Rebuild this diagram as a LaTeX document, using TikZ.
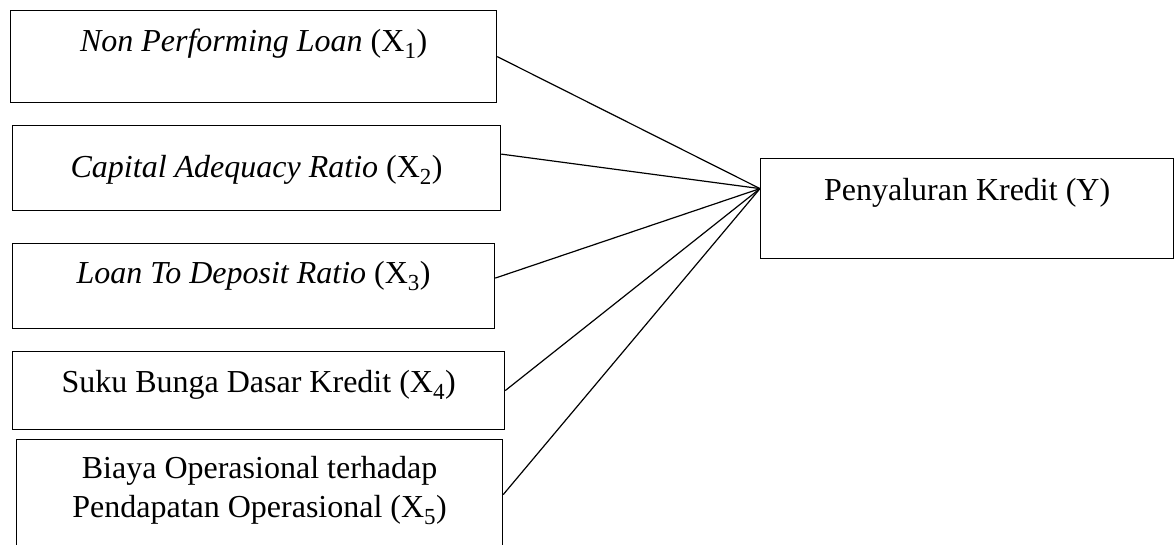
\documentclass[tikz,border=0pt]{standalone}
\usepackage{amsmath}
\usepackage{fontspec}
\setmainfont{Liberation Serif}
\usepackage{tikz}
\usetikzlibrary{positioning}

\newcommand{\xvar}[1]{$\mathrm{X}_{\text{\fontsize{23}{23}\selectfont #1}}$}

\begin{document}
\begin{tikzpicture}[
            x=1pt, y=-1pt,
            every node/.style={font=\fontsize{32}{39}\selectfont}, % Word-like body text
            varbox/.style={draw, line width=1.2pt, anchor=north west, inner sep=0pt, align=center}, % Variable boxes
            link/.style={line width=1.2pt} % Plain connecting lines
            ]

        \clip (0,0) rectangle (1174,544);

        % Independent variables on the left
        \node[varbox, minimum width=486pt, text height=41pt, text depth=51pt] (npl) at (10,10)
            {\textit{Non Performing Loan} (\xvar{1})};
        \node[varbox, minimum width=488pt, text height=52pt, text depth=33pt] (car) at (12,125)
            {\textit{Capital Adequacy Ratio} (\xvar{2})};
        \node[varbox, minimum width=482pt, text height=40pt, text depth=45pt] (ldr) at (12,243)
            {\textit{Loan To Deposit Ratio} (\xvar{3})};
        \node[varbox, minimum width=492pt, text height=41pt, text depth=37pt] (sbdk) at (12,351)
            {Suku Bunga Dasar Kredit (\xvar{4})};
        \node[varbox, minimum width=486pt, text height=78pt, text depth=32pt] (bopo) at (16,439)
            {Biaya Operasional terhadap\\Pendapatan Operasional (\xvar{5})};

        % Dependent variable on the right
        \node[varbox, minimum width=413pt, text height=42pt, text depth=58pt] (kredit) at (760,158)
            {Penyaluran Kredit (Y)};
        \coordinate (hub) at ([yshift=20pt]kredit.west);

        % Lines into the dependent variable
        \draw[link] (npl.east) -- (hub);
        \draw[link] ([yshift=14pt]car.east) -- (hub);
        \draw[link] ([yshift=8pt]ldr.east) -- (hub);
        \draw[link] (sbdk.east) -- (hub);
        \draw[link] (bopo.east) -- (hub);

            \end{tikzpicture}
\end{document}
